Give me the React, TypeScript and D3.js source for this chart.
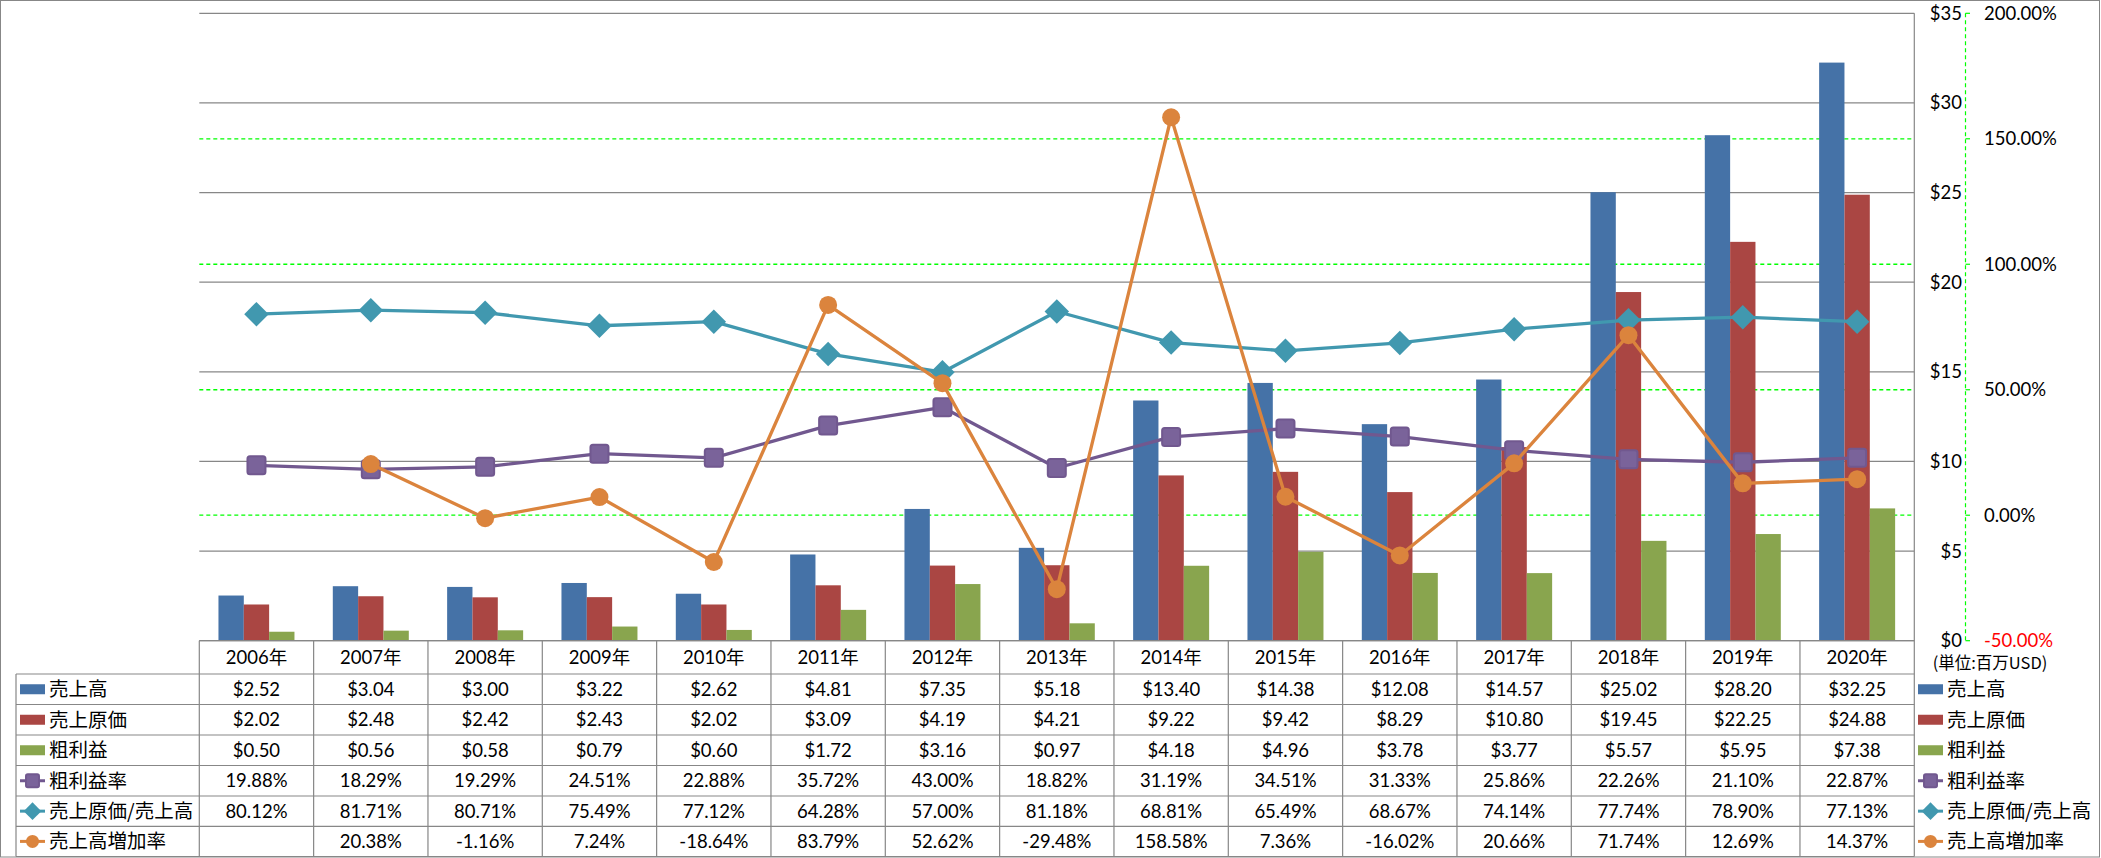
import React from "react";
import * as d3 from "d3";

const years = ["2006年","2007年","2008年","2009年","2010年","2011年","2012年","2013年","2014年","2015年","2016年","2017年","2018年","2019年","2020年"];
const sales = [2.52,3.04,3.00,3.22,2.62,4.81,7.35,5.18,13.40,14.38,12.08,14.57,25.02,28.20,32.25];
const cogs = [2.02,2.48,2.42,2.43,2.02,3.09,4.19,4.21,9.22,9.42,8.29,10.80,19.45,22.25,24.88];
const gross = [0.50,0.56,0.58,0.79,0.60,1.72,3.16,0.97,4.18,4.96,3.78,3.77,5.57,5.95,7.38];
const grossRate = [19.88,18.29,19.29,24.51,22.88,35.72,43.00,18.82,31.19,34.51,31.33,25.86,22.26,21.10,22.87];
const cogsRatio = [80.12,81.71,80.71,75.49,77.12,64.28,57.00,81.18,68.81,65.49,68.67,74.14,77.74,78.90,77.13];
const growth: (number | null)[] = [null,20.38,-1.16,7.24,-18.64,83.79,52.62,-29.48,158.58,7.36,-16.02,20.66,71.74,12.69,14.37];

const leftTicks = [0,5,10,15,20,25,30,35];
const rightTicks = [-50,0,50,100,150,200];

const barSeries = [
  { name: "売上高", values: sales, color: "#4572A7" },
  { name: "売上原価", values: cogs, color: "#AA4643" },
  { name: "粗利益", values: gross, color: "#89A54E" },
];
const lineSeries = [
  { name: "粗利益率", values: grossRate as (number | null)[], color: "#71588F", marker: "square" },
  { name: "売上原価/売上高", values: cogsRatio as (number | null)[], color: "#4198AF", marker: "diamond" },
  { name: "売上高増加率", values: growth, color: "#DB843D", marker: "circle" },
];

const W = 2101, H = 858;
const PL = 199.3, PR = 1914.3, PT = 13.3, PB = 640.7;
const GRID = "#878787";
const FONT = "Lato, 'Noto Sans CJK JP', sans-serif";
const JFONT = "'Noto Sans CJK JP', Lato, sans-serif";

function Marker({ kind, x, y, color, s = 1 }: { kind: string; x: number; y: number; color: string; s?: number }) {
  if (kind === "square") {
    const a = 18 * s;
    return <rect x={x - a / 2} y={y - a / 2} width={a} height={a} rx={2.5 * s} fill="#7A639A" stroke={color} strokeWidth={2} />;
  }
  if (kind === "diamond") {
    const p = d3.symbol().type(d3.symbolSquare).size(300 * s * s)();
    return <path d={p || ""} transform={`translate(${x},${y}) rotate(45)`} fill={color} />;
  }
  return <circle cx={x} cy={y} r={9 * s} fill={color} />;
}

export default function App() {
  const x = d3.scaleBand<string>().domain(years).range([PL, PR]).padding(0);
  const bw = x.bandwidth();
  const inner = d3.scaleBand<string>().domain(barSeries.map((b) => b.name)).range([-38, 38]);
  const yL = d3.scaleLinear().domain([0, 35]).range([PB, PT]);
  const yR = d3.scaleLinear().domain([-50, 200]).range([PB, PT]);

  const rowTops = [PB, 674, 704.5, 735, 765.5, 796, 826.3, 856.5];
  const rowMid = (i: number) => (rowTops[i] + rowTops[i + 1]) / 2;

  const tableRows: { name: string; cells: string[]; key: any }[] = [
    ...barSeries.map((b) => ({ name: b.name, cells: b.values.map((v) => "$" + v.toFixed(2)), key: { type: "bar", color: b.color } })),
    ...lineSeries.map((l) => ({ name: l.name, cells: l.values.map((v) => (v == null ? "" : v.toFixed(2) + "%")), key: { type: "line", color: l.color, marker: l.marker } })),
  ];

  const lineGen = d3
    .line<number | null>()
    .defined((d) => d != null)
    .x((_, i) => (x(years[i]) as number) + bw / 2)
    .y((d) => yR(d as number));

  const Key = ({ k, x0, y }: { k: any; x0: number; y: number }) =>
    k.type === "bar" ? (
      <rect x={x0} y={y - 5} width={25} height={10} fill={k.color} />
    ) : (
      <g>
        <line x1={x0} x2={x0 + 25} y1={y} y2={y} stroke={k.color} strokeWidth={3} />
        <Marker kind={k.marker} x={x0 + 12.5} y={y} color={k.color} s={0.72} />
      </g>
    );

  return (
    <svg width={W} height={H} style={{ display: "block", background: "#fff" }}>
      <style>{`body{margin:0}`}</style>
      <rect x={0.5} y={0.5} width={2099} height={856.5} fill="#fff" stroke={GRID} strokeWidth={1} />

      {/* gridlines */}
      {leftTicks.map((t) => (
        <line key={"g" + t} x1={PL} x2={PR} y1={yL(t)} y2={yL(t)} stroke={GRID} strokeWidth={1.2} />
      ))}
      {rightTicks.filter((t) => t > -50 && t < 200).map((t) => (
        <line key={"r" + t} x1={PL} x2={PR} y1={yR(t)} y2={yR(t)} stroke="#00FF00" strokeWidth={1.3} strokeDasharray="4,3" />
      ))}
      <line x1={PR} x2={PR} y1={PT} y2={rowTops[7]} stroke={GRID} strokeWidth={1.2} />

      {/* bars */}
      {barSeries.map((b) =>
        b.values.map((v, i) => (
          <rect
            key={b.name + i}
            x={(x(years[i]) as number) + bw / 2 + (inner(b.name) as number)}
            y={yL(v)}
            width={inner.bandwidth()}
            height={PB - yL(v)}
            fill={b.color}
          />
        ))
      )}

      {/* lines */}
      {lineSeries.map((l) => (
        <g key={l.name}>
          <path d={lineGen(l.values) || ""} fill="none" stroke={l.color} strokeWidth={3.3} strokeLinejoin="round" />
          {l.values.map((v, i) =>
            v == null ? null : <Marker key={i} kind={l.marker} x={(x(years[i]) as number) + bw / 2} y={yR(v)} color={l.color} />
          )}
        </g>
      ))}

      {/* right axes */}
      <line x1={1965.5} x2={1965.5} y1={PT} y2={PB} stroke="#00FF00" strokeWidth={1.2} strokeDasharray="4,3" />
      {rightTicks.map((t) => (
        <line key={"rt" + t} x1={1965.5} x2={1970} y1={yR(t)} y2={yR(t)} stroke="#00FF00" strokeWidth={1.2} />
      ))}
      {leftTicks.map((t) => (
        <text key={"lt" + t} x={1962} y={yL(t)} dy="0.35em" textAnchor="end" fontFamily={FONT} fontSize={18.5} fill="#000">
          {"$" + t}
        </text>
      ))}
      {rightTicks.map((t) => (
        <text key={"rl" + t} x={1984} y={yR(t)} dy="0.35em" textAnchor="start" fontFamily={FONT} fontSize={18.5} fill={t < 0 ? "#FF0000" : "#000"}>
          {t.toFixed(2) + "%"}
        </text>
      ))}
      <text x={1990} y={663} dy="0.35em" textAnchor="middle" fontFamily={JFONT} fontSize={16.5} fill="#000">
        (単位:百万USD)
      </text>

      {/* data table */}
      <line x1={PL} x2={PR} y1={rowTops[0]} y2={rowTops[0]} stroke={GRID} strokeWidth={1.2} />
      {rowTops.slice(1).map((y, i) => (
        <line key={"h" + i} x1={16} x2={PR} y1={y} y2={y} stroke={GRID} strokeWidth={1.2} />
      ))}
      <line x1={16} x2={16} y1={rowTops[1]} y2={rowTops[7]} stroke={GRID} strokeWidth={1.2} />
      {years.map((yr, i) => (
        <line key={"v" + i} x1={x(yr) as number} x2={x(yr) as number} y1={rowTops[0]} y2={rowTops[7]} stroke={GRID} strokeWidth={1.2} />
      ))}
      {years.map((yr) => (
        <text key={"yr" + yr} x={(x(yr) as number) + bw / 2} y={rowMid(0)} dy="0.35em" textAnchor="middle" fontFamily={FONT} fontSize={18.5} fill="#000">
          {yr}
        </text>
      ))}
      {tableRows.map((r, ri) => (
        <g key={"row" + ri}>
          <Key k={r.key} x0={20} y={rowMid(ri + 1)} />
          <text x={49} y={rowMid(ri + 1)} dy="0.36em" fontFamily={JFONT} fontSize={19.5} fill="#000">
            {r.name}
          </text>
          {r.cells.map((c, ci) => (
            <text key={ci} x={(x(years[ci]) as number) + bw / 2} y={rowMid(ri + 1)} dy="0.35em" textAnchor="middle" fontFamily={FONT} fontSize={18.5} fill="#000">
              {c}
            </text>
          ))}
          <Key k={r.key} x0={1918} y={rowMid(ri + 1)} />
          <text x={1947} y={rowMid(ri + 1)} dy="0.36em" fontFamily={JFONT} fontSize={19.5} fill="#000">
            {r.name}
          </text>
        </g>
      ))}
    </svg>
  );
}
